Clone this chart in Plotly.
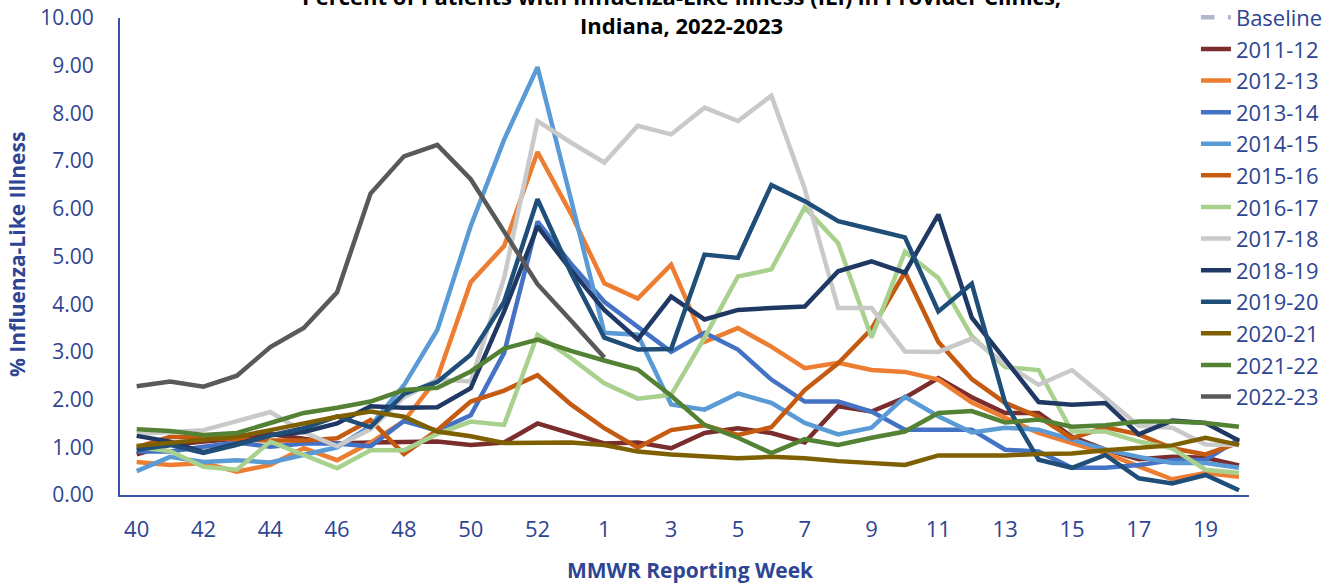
import plotly.graph_objects as go

weeks = [str(w) for w in range(40, 54)] + [str(w) for w in range(1, 21)]
tick_weeks = ["40", "42", "44", "46", "48", "50", "52", "1", "3", "5", "7", "9", "11", "13", "15", "17", "19"]

baseline = [None] * 34
s2011_12 = [0.85, 1.05, 1.12, 1.18, 1.28, 1.18, 1.08, 1.10, 1.12, 1.12, 1.05, 1.10, 1.50, 1.30, 1.08, 1.10, 0.98,
            1.30, 1.40, 1.30, 1.10, 1.86, 1.75, 2.04, 2.45, 2.05, 1.72, 1.72, 1.22, 0.95, 0.75, 0.80, 0.78, 0.62]
s2012_13 = [0.69, 0.63, 0.67, 0.49, 0.63, 0.98, 0.73, 1.10, 1.55, 2.45, 4.46, 5.22, 7.19, 5.90, 4.44, 4.12, 4.83,
            3.21, 3.50, 3.11, 2.66, 2.77, 2.62, 2.58, 2.42, 1.94, 1.62, 1.30, 1.09, 0.88, 0.60, 0.33, 0.46, 0.38]
s2013_14 = [0.91, 0.91, 1.01, 1.10, 1.01, 1.08, 1.08, 1.02, 1.55, 1.35, 1.67, 2.98, 5.73, 4.85, 4.05, 3.53, 3.00,
            3.40, 3.05, 2.42, 1.96, 1.96, 1.75, 1.37, 1.36, 1.37, 0.95, 0.91, 0.57, 0.57, 0.63, 0.73, 0.74, 1.17]
s2014_15 = [0.50, 0.80, 0.69, 0.73, 0.68, 0.83, 1.00, 1.45, 2.30, 3.46, 5.64, 7.45, 8.97, 6.20, 3.40, 3.36, 1.90,
            1.79, 2.13, 1.93, 1.51, 1.27, 1.41, 2.06, 1.65, 1.31, 1.41, 1.37, 1.16, 0.95, 0.80, 0.67, 0.67, 0.57]
s2015_16 = [1.00, 1.22, 1.20, 1.17, 1.14, 1.14, 1.19, 1.57, 0.86, 1.36, 1.96, 2.19, 2.51, 1.90, 1.40, 0.99, 1.36,
            1.46, 1.26, 1.42, 2.20, 2.76, 3.48, 4.67, 3.21, 2.43, 1.93, 1.64, 1.19, 1.42, 1.27, 0.98, 0.85, 1.10]
s2016_17 = [1.00, 0.92, 0.59, 0.53, 1.12, 0.84, 0.56, 0.94, 0.94, 1.28, 1.54, 1.47, 3.36, 2.87, 2.34, 2.02, 2.10,
            3.30, 4.58, 4.73, 6.03, 5.28, 3.30, 5.10, 4.55, 3.33, 2.68, 2.62, 1.33, 1.33, 1.12, 0.98, 0.53, 0.46]
s2017_18 = [1.28, 1.32, 1.36, 1.55, 1.74, 1.32, 1.02, 1.38, 2.05, 2.42, 2.38, 4.55, 7.84, 7.39, 6.97, 7.74, 7.56,
            8.12, 7.84, 8.37, 6.42, 3.92, 3.92, 3.01, 3.00, 3.28, 2.75, 2.31, 2.62, 2.04, 1.45, 1.41, 1.06, 1.05]
s2018_19 = [1.24, 1.12, 0.90, 1.08, 1.25, 1.32, 1.50, 1.86, 1.83, 1.84, 2.24, 3.85, 5.63, 4.72, 3.88, 3.26, 4.16,
            3.68, 3.88, 3.92, 3.95, 4.69, 4.90, 4.66, 5.88, 3.72, 2.85, 1.95, 1.89, 1.93, 1.27, 1.56, 1.51, 1.14]
s2019_20 = [0.95, 1.05, 0.88, 1.05, 1.25, 1.40, 1.65, 1.42, 2.12, 2.37, 2.94, 4.05, 6.20, 4.66, 3.30, 3.05, 3.06,
            5.04, 4.97, 6.50, 6.16, 5.74, 5.57, 5.40, 3.85, 4.43, 1.93, 0.74, 0.57, 0.84, 0.35, 0.24, 0.42, 0.10]
s2020_21 = [1.03, 1.09, 1.15, 1.22, 1.36, 1.51, 1.64, 1.75, 1.64, 1.33, 1.23, 1.09, 1.09, 1.10, 1.05, 0.91, 0.85,
            0.82, 0.77, 0.80, 0.77, 0.71, 0.66, 0.63, 0.83, 0.83, 0.83, 0.86, 0.87, 0.94, 1.00, 1.04, 1.20, 1.05]
s2021_22 = [1.38, 1.34, 1.26, 1.30, 1.51, 1.72, 1.83, 1.96, 2.20, 2.25, 2.59, 3.07, 3.26, 3.02, 2.82, 2.63, 2.08,
            1.47, 1.20, 0.88, 1.17, 1.05, 1.20, 1.33, 1.72, 1.76, 1.52, 1.58, 1.43, 1.46, 1.54, 1.54, 1.51, 1.43]
s2022_23 = [2.28, 2.38, 2.27, 2.50, 3.10, 3.50, 4.25, 6.32, 7.10, 7.34, 6.62, 5.52, 4.42, 3.66, 2.88] + [None] * 19

series = [
    ("Baseline", baseline, "#ADB9CA", "dash"),
    ("2011-12", s2011_12, "#7B2C2C", "solid"),
    ("2012-13", s2012_13, "#ED7D31", "solid"),
    ("2013-14", s2013_14, "#4472C4", "solid"),
    ("2014-15", s2014_15, "#5B9BD5", "solid"),
    ("2015-16", s2015_16, "#C55A11", "solid"),
    ("2016-17", s2016_17, "#A9D18E", "solid"),
    ("2017-18", s2017_18, "#C9C9C9", "solid"),
    ("2018-19", s2018_19, "#1F3864", "solid"),
    ("2019-20", s2019_20, "#1F4E79", "solid"),
    ("2020-21", s2020_21, "#7F6000", "solid"),
    ("2021-22", s2021_22, "#548235", "solid"),
    ("2022-23", s2022_23, "#595959", "solid"),
]

TXT = "#2E4593"
AX = "#3A52A6"
FONT = "Open Sans"

fig = go.Figure()
for name, vals, color, dash in series:
    fig.add_trace(go.Scatter(
        x=weeks, y=vals, name=name, mode="lines",
        line=dict(color=color, width=4.5, dash=dash),
        connectgaps=False,
    ))

fig.update_layout(
    width=1335, height=584,
    paper_bgcolor="white", plot_bgcolor="white",
    margin=dict(l=120, r=86, t=18, b=89, autoexpand=False),
    font=dict(family=FONT, color=TXT, size=22),
    showlegend=True,
    legend=dict(
        x=0.953, xanchor="left", y=1.045, yanchor="top",
        bgcolor="rgba(0,0,0,0)", font=dict(size=22, color=TXT, family=FONT),
        traceorder="normal", maxheight=580,
    ),
    xaxis=dict(
        type="category", categoryorder="array", categoryarray=weeks,
        range=[-0.5, 33.3], automargin=False,
        tickmode="array", tickvals=tick_weeks, ticktext=tick_weeks,
        showgrid=False, zeroline=False,
        showline=True, linecolor=AX, linewidth=2,
        ticks="", tickfont=dict(size=22, color=TXT, family=FONT),
        ticklabelstandoff=14, ticklabeloverflow="allow",
    ),
    yaxis=dict(
        range=[0, 10], tickmode="array", tickvals=list(range(0, 11)),
        tickformat=".2f", automargin=False,
        showgrid=False, zeroline=False,
        showline=True, linecolor=AX, linewidth=2,
        ticks="", tickfont=dict(size=21, color=TXT, family=FONT),
        ticklabelstandoff=20, ticklabeloverflow="allow",
    ),
    annotations=[
        dict(text="<b>Percent of Patients with Influenza-Like Illness (ILI) in Provider Clinics,</b>",
             xref="paper", yref="paper", x=0.497, y=(495 + 4) / 477, xanchor="center", yanchor="middle",
             showarrow=False, font=dict(size=22, color="#000000", family=FONT)),
        dict(text="<b>Indiana, 2022-2023</b>",
             xref="paper", yref="paper", x=0.497, y=(495 - 25) / 477, xanchor="center", yanchor="middle",
             showarrow=False, font=dict(size=22, color="#000000", family=FONT)),
        dict(text="<b>MMWR Reporting Week</b>",
             xref="paper", yref="paper", x=(690 - 120) / 1129, y=(495 - 570) / 477,
             xanchor="center", yanchor="middle",
             showarrow=False, font=dict(size=21, color=TXT, family=FONT)),
        dict(text="<b>% Influenza-Like Illness</b>", textangle=-90,
             xref="paper", yref="paper", x=(17 - 120) / 1129, y=(495 - 255) / 477,
             xanchor="center", yanchor="middle",
             showarrow=False, font=dict(size=21, color=TXT, family=FONT)),
    ],
)

fig.write_html("out.html", config={"displayModeBar": False},
               post_script="document.body.style.margin='0px';")
